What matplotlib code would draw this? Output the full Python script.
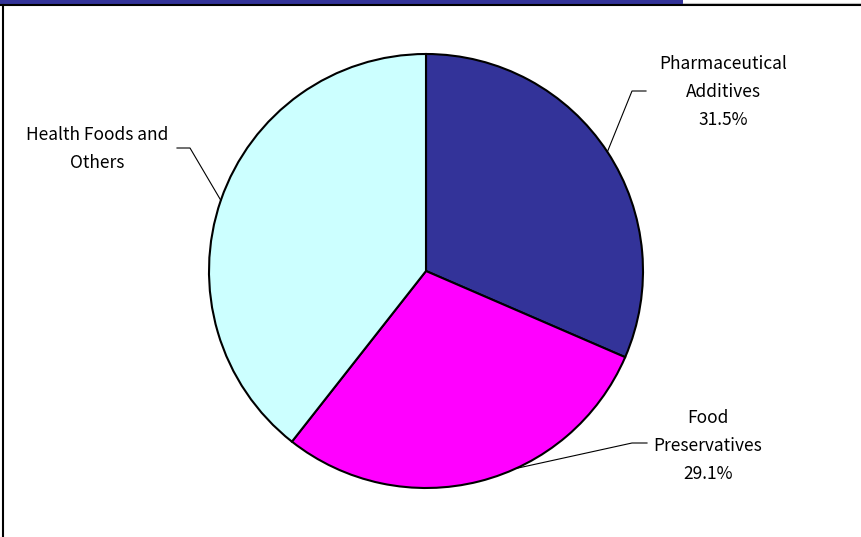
import matplotlib.pyplot as plt
import numpy as np
from matplotlib.lines import Line2D
from matplotlib.patches import Rectangle

# market share by application
categories = ["Pharmaceutical\nAdditives", "Food\nPreservatives", "Health Foods and\nOthers"]
shares = [31.5, 29.1, 39.4]
show_pct = [True, True, False]
colors = ["#333399", "#FF00FF", "#CCFFFF"]

W, H = 862, 537
fig = plt.figure(figsize=(W / 100, H / 100), dpi=100)
ax = fig.add_axes([0, 0, 1, 1])

cx, cy, r = 426, 271, 217
# y axis is flipped, so start at -90 and go counterclockwise in data space
wedges, _ = ax.pie(shares, colors=colors, startangle=-90, counterclock=True,
                   center=(cx, cy), radius=r, frame=True,
                   wedgeprops=dict(edgecolor="black", linewidth=1.5))
ax.set_xlim(0, W)
ax.set_ylim(H, 0)  # pixel-style coordinates, y grows downward
ax.axis("off")
ax.set_aspect("auto")

# label text positions and leader geometry (edge angle, elbow, end)
label_pos = [(723, 92), (708, 446), (97, 149)]
edge_angles = [33.3, -65.5, 161.0]
elbows = [(632, 91), (632, 443), (190, 148)]
ends = [(646, 91), (647, 443), (177, 148)]

font = ["Noto Sans CJK JP", "DejaVu Sans"]
for name, val, pct, (tx, ty), ang, el, en in zip(categories, shares, show_pct,
                                                 label_pos, edge_angles, elbows, ends):
    txt = f"{name}\n{val:.1f}%" if pct else name
    ax.text(tx, ty, txt, ha="center", va="center", fontsize=12.5,
            family=font, linespacing=1.72, color="black")
    a = np.deg2rad(ang)
    ex, ey = cx + r * np.cos(a), cy - r * np.sin(a)
    ax.plot([ex, el[0], en[0]], [ey, el[1], en[1]], color="black", lw=0.8)

# title strip and chart frame
ax.add_patch(Rectangle((0, 0), 683, 3.5, color="#333399", lw=0, clip_on=False))
ax.add_line(Line2D([683, W], [2.5, 2.5], color="#c8c8c8", lw=0.8))
ax.add_line(Line2D([0, W], [4.5, 4.5], color="black", lw=1.5))
ax.add_line(Line2D([3.5, 3.5], [4.5, H], color="black", lw=1.5))

fig.savefig("out.png", dpi=100)
